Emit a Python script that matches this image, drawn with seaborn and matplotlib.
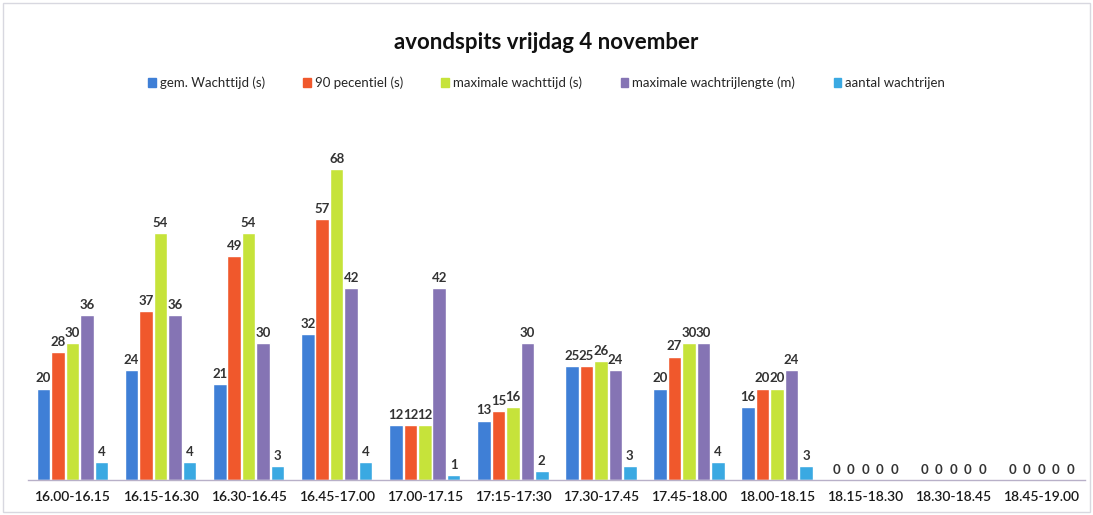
import matplotlib
matplotlib.use("Agg")
import matplotlib.pyplot as plt
import seaborn as sns
import pandas as pd
from matplotlib.patches import Rectangle

categories = ["16.00-16.15", "16.15-16.30", "16.30-16.45", "16.45-17.00", "17.00-17.15",
              "17:15-17:30", "17.30-17.45", "17.45-18.00", "18.00-18.15", "18.15-18.30",
              "18.30-18.45", "18.45-19.00"]
series = ["gem. Wachttijd (s)", "90 pecentiel (s)", "maximale wachttijd (s)",
          "maximale wachtrijlengte (m)", "aantal wachtrijen"]
gem_wachttijd = [20, 24, 21, 32, 12, 13, 25, 20, 16, 0, 0, 0]
pecentiel_90 = [28, 37, 49, 57, 12, 15, 25, 27, 20, 0, 0, 0]
max_wachttijd = [30, 54, 54, 68, 12, 16, 26, 30, 20, 0, 0, 0]
max_wachtrijlengte = [36, 36, 30, 42, 42, 30, 24, 30, 24, 0, 0, 0]
aantal_wachtrijen = [4, 4, 3, 4, 1, 2, 3, 4, 3, 0, 0, 0]
colors = ["#3f7fd6", "#f0582c", "#c6e33a", "#8574b4", "#3aa9e2"]

values = [gem_wachttijd, pecentiel_90, max_wachttijd, max_wachtrijlengte, aantal_wachtrijen]
rows = []
for s, vals in zip(series, values):
    for c, v in zip(categories, vals):
        rows.append({"cat": c, "series": s, "value": v})
df = pd.DataFrame(rows)

sns.set_theme(style="white")
plt.rcParams["font.family"] = ["Lato", "DejaVu Sans"]

fig = plt.figure(figsize=(10.93, 5.15), dpi=100)
ax = fig.add_axes([0.026, 0.068, 0.967, 0.71])

sns.barplot(data=df, x="cat", y="value", hue="series", order=categories,
            hue_order=series, palette=colors, width=0.82, gap=0.06,
            saturation=1, ax=ax, legend=False)

for cont in ax.containers:
    ax.bar_label(cont, padding=3, fontsize=9.5, fontweight="bold", color="#333333")

ax.set_ylim(0, 80)
ax.set_xlim(-0.5, len(categories) - 0.5)
ax.set_xlabel("")
ax.set_ylabel("")
ax.set_yticks([])
for sp in ["left", "right", "top"]:
    ax.spines[sp].set_visible(False)
ax.spines["bottom"].set_color("#b8b0c8")
ax.spines["bottom"].set_linewidth(1)
ax.tick_params(axis="x", length=0, pad=8, labelsize=10, labelcolor="#1a1a1a")
for lbl in ax.get_xticklabels():
    lbl.set_fontweight("semibold")

handles = [Rectangle((0, 0), 1, 1, color=c) for c in colors]
fig.legend(handles, series, loc="center", bbox_to_anchor=(0.5, 0.839), ncol=5,
           frameon=False, fontsize=9.5, handlelength=0.6, handleheight=0.6,
           handletextpad=0.3, columnspacing=2.9)

fig.text(0.5, 0.918, "avondspits vrijdag 4 november", ha="center", va="center",
         fontsize=16, fontweight="bold", color="#111111")

fig.patches.append(Rectangle((0.003, 0.005), 0.994, 0.99, transform=fig.transFigure,
                             fill=False, edgecolor="#d8d8e0", linewidth=1))

fig.savefig("out.png", dpi=100)
